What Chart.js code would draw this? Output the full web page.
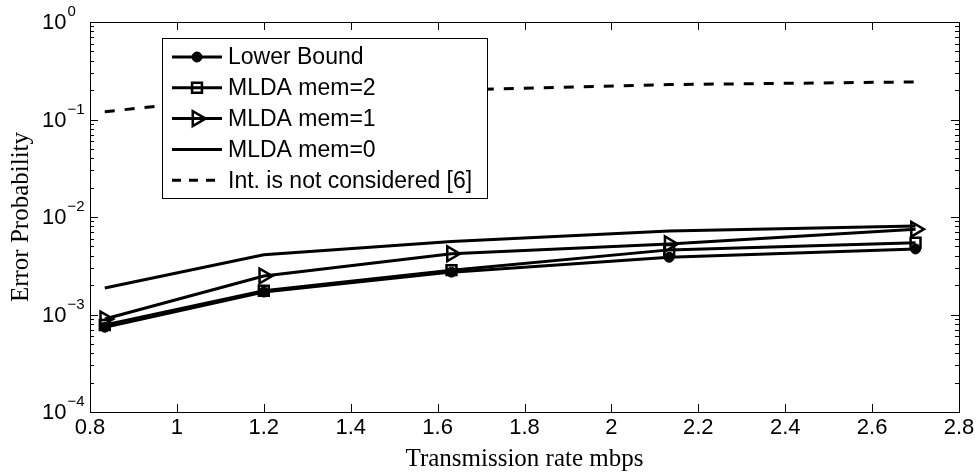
<!DOCTYPE html>
<html>
<head>
<meta charset="utf-8">
<script src="https://cdn.jsdelivr.net/npm/chart.js@4.4.1/dist/chart.umd.min.js"></script>
<style>
  html, body { margin: 0; padding: 0; background: #fff; }
  #wrap { width: 979px; height: 473px; }
</style>
</head>
<body>
<div id="wrap"><canvas id="chart" width="979" height="473"></canvas></div>
<script>
// rates (mbps) and error probabilities
var rates = [0.834, 1.2, 1.632, 2.133, 2.7];
var lowerBound = [7.4e-4, 1.7e-3, 2.72e-3, 3.86e-3, 4.7e-3];
var mldaMem2 = [7.8e-4, 1.75e-3, 2.85e-3, 4.6e-3, 5.45e-3];
var mldaMem1 = [9.0e-4, 2.48e-3, 4.2e-3, 5.3e-3, 7.5e-3];
var mldaMem0 = [1.87e-3, 4.1e-3, 5.6e-3, 7.2e-3, 8.1e-3];
var intNotConsidered = [0.12, 0.18, 0.2, 0.228, 0.243];

var seriesLabels = ['Lower Bound', 'MLDA mem=2', 'MLDA mem=1', 'MLDA mem=0', 'Int. is not considered [6]'];
var xTicks = [0.8, 1, 1.2, 1.4, 1.6, 1.8, 2, 2.2, 2.4, 2.6, 2.8];
var yDecades = [0, -1, -2, -3, -4];

var sansFont = '"Liberation Sans", Arial, sans-serif';
var serifFont = '"Liberation Serif", "Times New Roman", serif';

function points(ys) {
    return ys.map(function (v, i) { return { x: rates[i], y: v }; });
}

var datasets = [
    {
        label: seriesLabels[0], data: points(lowerBound),
        borderColor: '#000', borderWidth: 3,
        pointStyle: 'circle', pointRadius: 5, pointBackgroundColor: '#000',
        pointBorderColor: '#000', pointBorderWidth: 1
    },
    {
        label: seriesLabels[1], data: points(mldaMem2),
        borderColor: '#000', borderWidth: 3,
        pointStyle: 'rect', pointRadius: 7, pointBackgroundColor: 'rgba(0,0,0,0)',
        pointBorderColor: '#000', pointBorderWidth: 2.5
    },
    {
        label: seriesLabels[2], data: points(mldaMem1),
        borderColor: '#000', borderWidth: 3,
        pointStyle: 'triangle', pointRotation: 90, pointRadius: 8.5,
        pointBackgroundColor: 'rgba(0,0,0,0)',
        pointBorderColor: '#000', pointBorderWidth: 2.5
    },
    {
        label: seriesLabels[3], data: points(mldaMem0),
        borderColor: '#000', borderWidth: 3, pointRadius: 0
    },
    {
        label: seriesLabels[4], data: points(intNotConsidered),
        borderColor: '#000', borderWidth: 3, borderDash: [10, 10], pointRadius: 0
    }
];

function drawMarker(ctx, ds, x, y) {
    if (!ds.pointRadius) return;
    var r = ds.pointRadius;
    ctx.save();
    ctx.lineWidth = ds.pointBorderWidth;
    ctx.strokeStyle = '#000';
    ctx.fillStyle = ds.pointBackgroundColor;
    ctx.beginPath();
    if (ds.pointStyle === 'circle') {
        ctx.arc(x, y, r, 0, Math.PI * 2);
    } else if (ds.pointStyle === 'rect') {
        var s = r * Math.SQRT1_2;
        ctx.rect(x - s, y - s, 2 * s, 2 * s);
    } else if (ds.pointStyle === 'triangle') {
        // pointing right, same geometry as chart.js triangle rotated 90deg
        var a = Math.PI / 2;
        for (var k = 0; k < 3; k++) {
            var ang = a + k * 2 * Math.PI / 3;
            var px = x + Math.sin(ang) * r;
            var py = y - Math.cos(ang) * r;
            if (k === 0) ctx.moveTo(px, py); else ctx.lineTo(px, py);
        }
        ctx.closePath();
    }
    ctx.fill();
    ctx.stroke();
    ctx.restore();
}

var matlabAxes = {
    id: 'matlabAxes',
    afterDatasetsDraw: function (chart) {
        var ctx = chart.ctx;
        var area = chart.chartArea;
        var xs = chart.scales.x, ys = chart.scales.y;
        ctx.save();
        ctx.strokeStyle = '#000';
        ctx.lineWidth = 1;
        // frame
        ctx.strokeRect(Math.round(area.left) + 0.5, Math.round(area.top) + 0.5,
            Math.round(area.right - area.left), Math.round(area.bottom - area.top));
        ctx.beginPath();
        // x ticks, inside, bottom and top
        xTicks.forEach(function (t) {
            var px = Math.round(xs.getPixelForValue(t)) + 0.5;
            ctx.moveTo(px, area.bottom); ctx.lineTo(px, area.bottom - 8);
            ctx.moveTo(px, area.top); ctx.lineTo(px, area.top + 8);
        });
        // y ticks, major and minor
        yDecades.forEach(function (e) {
            var base = Math.pow(10, e);
            var py = Math.round(ys.getPixelForValue(base)) + 0.5;
            ctx.moveTo(area.left, py); ctx.lineTo(area.left + 8, py);
            ctx.moveTo(area.right, py); ctx.lineTo(area.right - 8, py);
            if (e < 0) {
                for (var m = 2; m <= 9; m++) {
                    var my = Math.round(ys.getPixelForValue(base * m)) + 0.5;
                    ctx.moveTo(area.left, my); ctx.lineTo(area.left + 4, my);
                    ctx.moveTo(area.right, my); ctx.lineTo(area.right - 4, my);
                }
            }
        });
        ctx.stroke();

        // y tick labels 10^e
        ctx.fillStyle = '#000';
        yDecades.forEach(function (e) {
            var py = ys.getPixelForValue(Math.pow(10, e));
            ctx.font = '22px ' + sansFont;
            ctx.textAlign = 'left';
            ctx.textBaseline = 'middle';
            ctx.fillText('10', 42, py + 1);
            var w = ctx.measureText('10').width;
            ctx.font = '15px ' + sansFont;
            ctx.textBaseline = 'alphabetic';
            ctx.fillText(e === 0 ? '0' : '\u2212' + (-e), 42 + w + 1, py - 6);
        });

        // axis titles
        ctx.font = '25px ' + serifFont;
        ctx.textAlign = 'center';
        ctx.textBaseline = 'middle';
        ctx.fillText('Transmission rate mbps', (area.left + area.right) / 2, 459);
        ctx.save();
        ctx.translate(21, (area.top + area.bottom) / 2);
        ctx.rotate(-Math.PI / 2);
        ctx.fillText('Error Probability', 0, 0);
        ctx.restore();

        // legend
        var bx = 162.5, by = 38.5, bw = 325, bh = 160;
        ctx.fillStyle = '#fff';
        ctx.fillRect(bx, by, bw, bh);
        ctx.strokeRect(bx, by, bw, bh);
        datasets.forEach(function (ds, i) {
            var ly = 57 + i * 30.8;
            ctx.save();
            ctx.strokeStyle = '#000';
            ctx.lineWidth = ds.borderWidth;
            ctx.setLineDash(ds.borderDash ? [9, 8] : []);
            ctx.beginPath();
            ctx.moveTo(172, ly); ctx.lineTo(222, ly);
            ctx.stroke();
            ctx.restore();
            drawMarker(ctx, ds, 197, ly);
            ctx.fillStyle = '#000';
            ctx.font = '23px ' + sansFont;
            ctx.textAlign = 'left';
            ctx.textBaseline = 'middle';
            ctx.fillText(ds.label, 228, ly + 1);
        });
        ctx.restore();
    }
};

new Chart(document.getElementById('chart'), {
    type: 'line',
    data: { datasets: datasets },
    options: {
        responsive: false,
        animation: false,
        layout: { padding: { top: 22, right: 20, left: 0, bottom: 0 } },
        elements: { line: { tension: 0 } },
        plugins: { legend: { display: false }, tooltip: { enabled: false } },
        scales: {
            x: {
                type: 'linear', min: 0.8, max: 2.8,
                afterBuildTicks: function (scale) {
                    scale.ticks = xTicks.map(function (v) { return { value: v }; });
                },
                afterFit: function (scale) { scale.height = 61; },
                grid: { display: false, drawTicks: false },
                border: { display: false },
                ticks: {
                    color: '#000', padding: 3, maxRotation: 0, autoSkip: false,
                    font: { family: sansFont, size: 22 },
                    callback: function (v) { return String(Number(v.toFixed(1))); }
                }
            },
            y: {
                type: 'logarithmic', min: 1e-4, max: 1,
                afterFit: function (scale) { scale.width = 90; },
                grid: { display: false, drawTicks: false },
                border: { display: false },
                ticks: { display: false }
            }
        }
    },
    plugins: [matlabAxes]
});
</script>
</body>
</html>
